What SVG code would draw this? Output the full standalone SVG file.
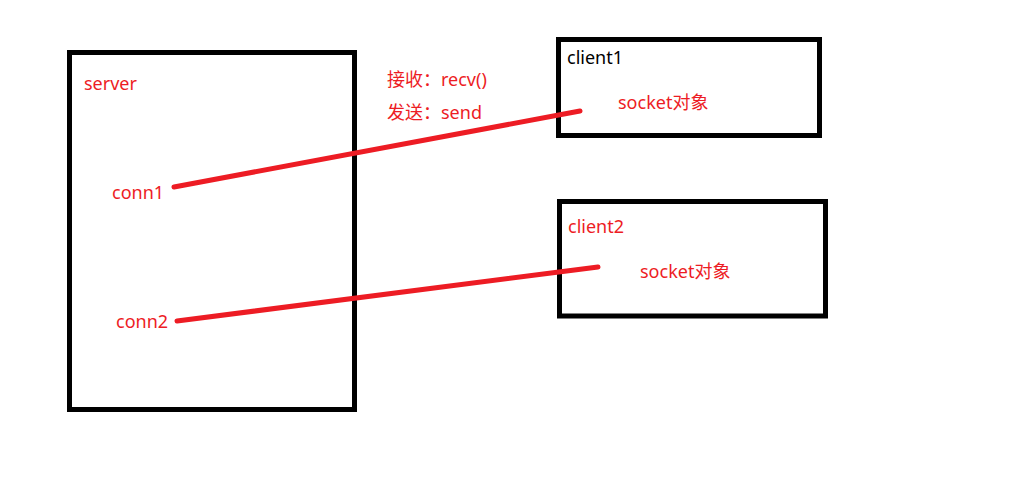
<svg xmlns="http://www.w3.org/2000/svg" width="1023" height="494" viewBox="0 0 1023 494">
<style>
.box{fill:none;stroke:#000;stroke-width:5}
.t{font-family:"Noto Sans","Noto Sans CJK SC",sans-serif;font-size:18px;fill:#ED1C24}
.k{fill:#000}
.c{stroke:#ED1C24;stroke-width:5;stroke-linecap:round;fill:none}
</style>
<rect width="1023" height="494" fill="#fff"/>
<g id="server">
<rect class="box" x="69.5" y="52.5" width="285" height="357"/>
<text class="t" x="84" y="90">server</text>
<text class="t" x="112" y="199">conn1</text>
<text class="t" x="116" y="328">conn2</text>
</g>
<g id="client1">
<rect class="box" x="558.5" y="39.5" width="261" height="96"/>
<text class="t k" x="567" y="64">client1</text>
<text class="t" x="618" y="109">socket对象</text>
</g>
<g id="client2">
<rect class="box" x="559.5" y="201.5" width="266" height="114.5"/>
<text class="t" x="568" y="233">client2</text>
<text class="t" x="640" y="278">socket对象</text>
</g>
<g id="labels">
<text class="t" x="387" y="86">接收：recv()</text>
<text class="t" x="387" y="119">发送：send</text>
</g>
<g id="connectors">
<line class="c" x1="174" y1="187" x2="580" y2="111"/>
<line class="c" x1="177" y1="321" x2="598" y2="267"/>
</g>
</svg>
